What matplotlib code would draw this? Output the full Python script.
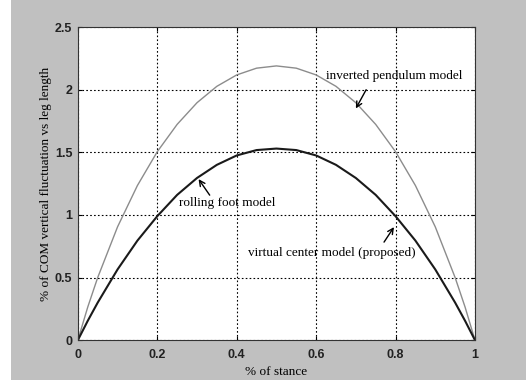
import matplotlib.pyplot as plt
from matplotlib.patches import Rectangle

# values
stance = [0, 0.025, 0.05, 0.1, 0.15, 0.2, 0.25, 0.3, 0.35, 0.4, 0.45, 0.5,
          0.55, 0.6, 0.65, 0.7, 0.75, 0.8, 0.85, 0.9, 0.95, 0.975, 1]
pendulum = [0, 0.265, 0.50, 0.905, 1.235, 1.505, 1.723, 1.896, 2.027, 2.118, 2.172, 2.19,
            2.172, 2.118, 2.027, 1.896, 1.723, 1.505, 1.235, 0.905, 0.50, 0.265, 0]
rolling = [0, 0.155, 0.30, 0.565, 0.795, 0.99, 1.16, 1.295, 1.40, 1.475, 1.518, 1.53,
           1.518, 1.475, 1.40, 1.295, 1.16, 0.99, 0.795, 0.565, 0.30, 0.155, 0]
xticks = [0, 0.2, 0.4, 0.6, 0.8, 1]
yticks = [0, 0.5, 1, 1.5, 2, 2.5]

fig = plt.figure(figsize=(5.26, 3.87), dpi=100)
fig.patch.set_facecolor('white')
fig.patches.append(Rectangle((0.021, 0.018), 0.979, 0.982, transform=fig.transFigure,
                             facecolor='#c0c0c0', edgecolor='none', zorder=-10))

ax = fig.add_axes([0.148, 0.121, 0.755, 0.809])
ax.plot(stance, pendulum, color='#8c8c8c', lw=1.0)
ax.plot(stance, rolling, color='#1a1a1a', lw=1.5)

ax.set_xlim(0, 1)
ax.set_ylim(0, 2.5)
ax.set_xticks(xticks)
ax.set_yticks(yticks)
ax.set_xticklabels(['0', '0.2', '0.4', '0.6', '0.8', '1'])
ax.set_yticklabels(['0', '0.5', '1', '1.5', '2', '2.5'])
ax.grid(True, color='black', linestyle=(0, (1.5, 2)), lw=0.8)
ax.tick_params(direction='in', length=3, top=True, right=True, labelsize=9)
ax.tick_params(axis='x', pad=6)
ax.tick_params(axis='y', pad=4)
for lab in ax.get_xticklabels() + ax.get_yticklabels():
    lab.set_fontfamily('Liberation Sans')
    lab.set_fontweight('bold')
    lab.set_color('#222222')
for s in ax.spines.values():
    s.set_color('#333333')
    s.set_linewidth(0.8)

serif = 'Liberation Serif'
ax.set_xlabel('% of stance', fontsize=9.5, family=serif, labelpad=4)
ax.set_ylabel('% of COM vertical fluctuation vs leg length', fontsize=9.5, family=serif, labelpad=2)

arrow = dict(arrowstyle='->', color='black', lw=1.0, shrinkA=0, shrinkB=0)
ax.text(0.797, 2.11, 'inverted pendulum model', ha='center', va='center', fontsize=9.5, family=serif)
ax.annotate('', xy=(0.70, 1.85), xytext=(0.726, 2.0), arrowprops=arrow)
ax.text(0.377, 1.094, 'rolling foot model', ha='center', va='center', fontsize=9.5, family=serif)
ax.annotate('', xy=(0.304, 1.286), xytext=(0.332, 1.158), arrowprops=arrow)
ax.text(0.639, 0.695, 'virtual center model (proposed)', ha='center', va='center', fontsize=9.5, family=serif)
ax.annotate('', xy=(0.796, 0.903), xytext=(0.771, 0.783), arrowprops=arrow)

plt.savefig('out.png', dpi=100)
